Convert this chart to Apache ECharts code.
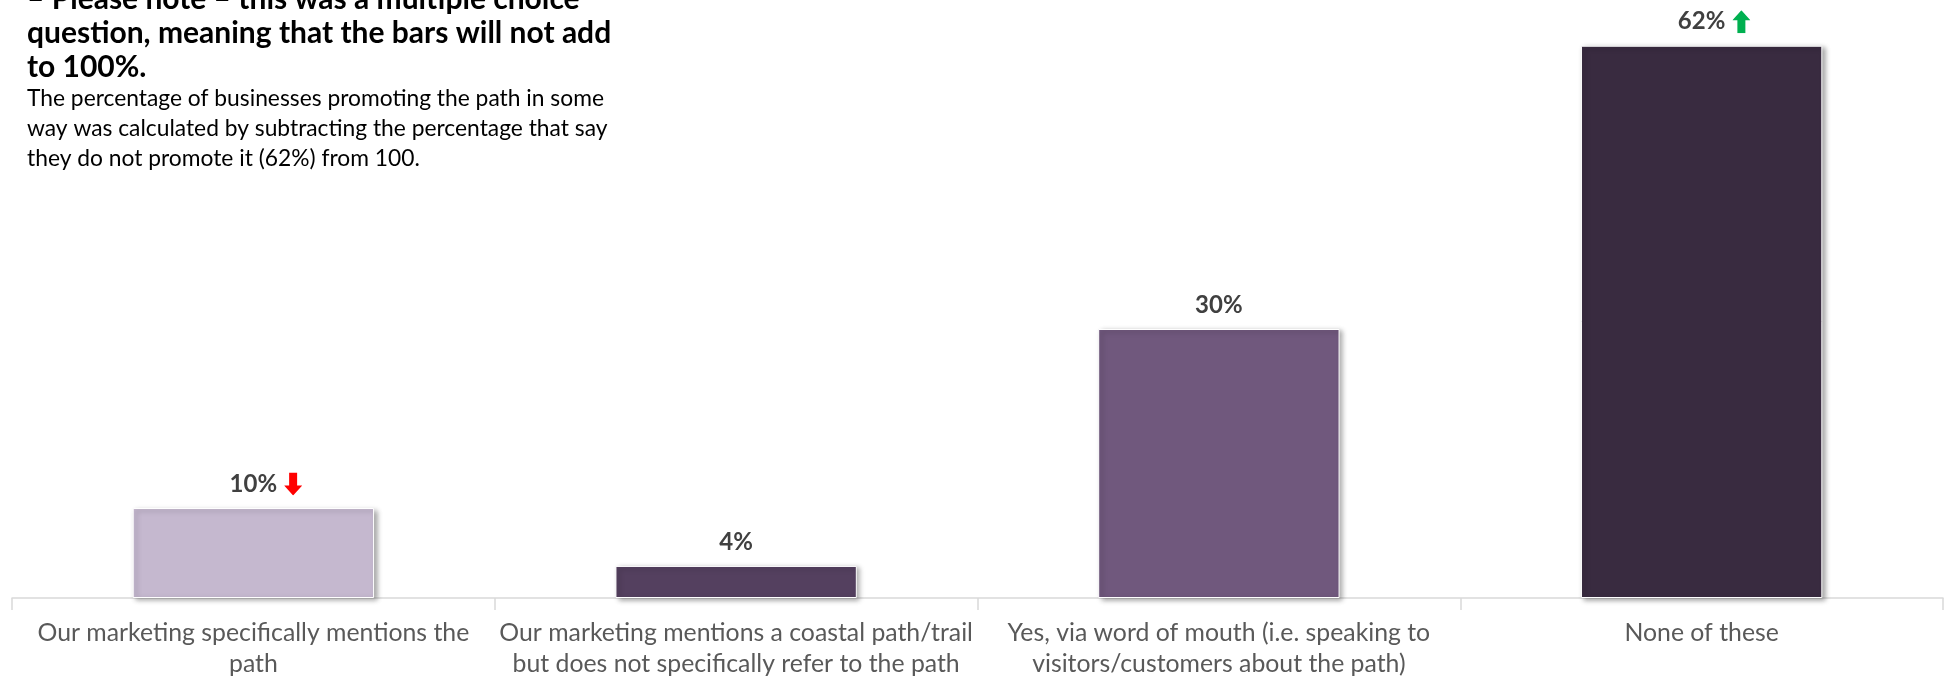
<!DOCTYPE html>
<html>
<head>
<meta charset="utf-8">
<script src="https://cdn.jsdelivr.net/npm/echarts@6/dist/echarts.min.js"></script>
<style>
html,body{margin:0;padding:0;background:#fff;}
#chart{width:1953px;height:677px;}
</style>
</head>
<body>
<div id="chart"></div>
<script>
// ---- data ----
var categories = [
  'Our marketing specifically mentions the\npath',
  'Our marketing mentions a coastal path/trail\nbut does not specifically refer to the path',
  'Yes, via word of mouth (i.e. speaking to\nvisitors/customers about the path)',
  'None of these'
];
var values = [10.1, 3.6, 30.2, 62];
var trends = ['down', null, null, 'up'];
var barColors = ['#C5B8CF', '#54405F', '#70587D', '#392B40'];
var noteTitle = '\u2013 Please note \u2013 this was a multiple choice\nquestion, meaning that the bars will not add\nto 100%.';
var noteText = 'The percentage of businesses promoting the path in some\nway was calculated by subtracting the percentage that say\nthey do not promote it (62%) from 100.';

function arrowSvg(dir, color) {
  var path = dir === 'up'
    ? 'M9 0 L18 10 L13 10 L13 23 L5 23 L5 10 L0 10 Z'
    : 'M9 23 L18 13 L13 13 L13 0 L5 0 L5 13 L0 13 Z';
  var svg = '<svg xmlns="http://www.w3.org/2000/svg" width="18" height="23" viewBox="0 0 18 23"><path d="' + path + '" fill="' + color + '"/></svg>';
  return 'data:image/svg+xml;charset=utf-8,' + encodeURIComponent(svg);
}

var chart = echarts.init(document.getElementById('chart'));
var option = {
  backgroundColor: '#fff',
  animation: false,
  title: {
    text: noteTitle,
    subtext: noteText,
    left: 27,
    top: -18,
    padding: 0,
    itemGap: 0,
    textStyle: {fontFamily: 'Lato', fontWeight: 'bold', fontSize: 30, lineHeight: 34, color: '#000'},
    subtextStyle: {fontFamily: 'Lato', fontSize: 22.8, lineHeight: 30, color: '#000'}
  },
  grid: {left: 12, right: 10, top: 19, bottom: 79, containLabel: false, outerBoundsMode: 'none'},
  xAxis: {
    type: 'category',
    data: categories,
    axisLine: {lineStyle: {color: '#D9D9D9', width: 1.5}},
    axisTick: {show: true, length: 12, lineStyle: {color: '#D9D9D9', width: 1.5}},
    axisLabel: {interval: 0, margin: 20, fontFamily: 'Lato', fontSize: 24.8, lineHeight: 31, color: '#595959'}
  },
  yAxis: {type: 'value', min: 0, max: 65, show: false, splitLine: {show: false}},
  series: [{
    type: 'bar',
    barWidth: '50%',
    data: values.map(function (v, i) {
      return {value: v, itemStyle: {color: barColors[i]}};
    }),
    itemStyle: {
      borderColor: '#fff', borderWidth: 1,
      shadowColor: 'rgba(0,0,0,0.35)', shadowBlur: 5, shadowOffsetX: 3, shadowOffsetY: 2
    },
    label: {
      show: true,
      position: 'top',
      distance: 12,
      formatter: function (p) {
        var t = trends[p.dataIndex];
        var txt = Math.round(p.value) + '%';
        if (t === 'up') return '{sp| }{v|' + txt + '}{g| }{up| }';
        if (t === 'down') return '{sp| }{v|' + txt + '}{g| }{dn| }';
        return '{v|' + txt + '}';
      },
      rich: {
        v: {fontFamily: 'Lato', fontWeight: 'bold', fontSize: 24, color: '#404040'},
        sp: {width: 25, height: 23},
        g: {width: 7, height: 23},
        up: {width: 18, height: 23, backgroundColor: {image: arrowSvg('up', '#00B050')}},
        dn: {width: 18, height: 23, backgroundColor: {image: arrowSvg('down', '#FF0000')}}
      }
    }
  }]
};
chart.setOption(option);
</script>
</body>
</html>
